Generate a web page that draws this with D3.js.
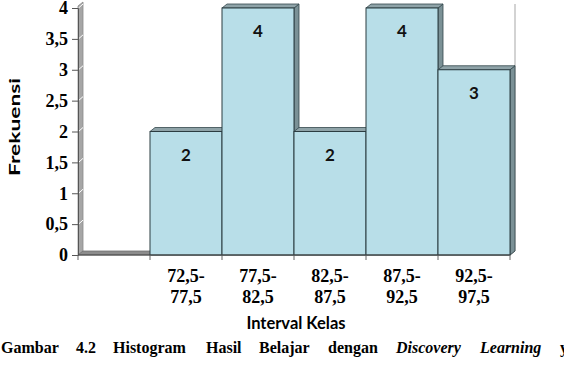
<!DOCTYPE html>
<html>
<head>
<meta charset="utf-8">
<script src="https://cdn.jsdelivr.net/npm/d3@7"></script>
<style>
  body { margin: 0; background: #fff; }
  svg { display: block; }
</style>
</head>
<body>
<div id="chart"></div>
<script>
// data
var categories = ["", "72,5-77,5", "77,5-82,5", "82,5-87,5", "87,5-92,5", "92,5-97,5"];
var frequencies = [0, 2, 4, 2, 4, 3];
var yTickValues = [0, 0.5, 1, 1.5, 2, 2.5, 3, 3.5, 4];
var captionWords = ["Gambar", "4.2", "Histogram", "Hasil", "Belajar", "dengan", "Discovery", "Learning", "y"];
var captionItalic = ["Discovery", "Learning"];

var width = 564, height = 365;
var plotLeft = 78, plotRight = 510, plotTop = 8, plotBottom = 255;
var dx = 5, dy = 4;   // 3d depth

var svg = d3.select("#chart").append("svg")
    .attr("width", width)
    .attr("height", height);

var x = d3.scaleBand().domain(categories).range([plotLeft, plotRight]).padding(0);
var y = d3.scaleLinear().domain([0, 4]).range([plotBottom, plotTop]);

var serif = "'Liberation Serif', 'Times New Roman', serif";
var sans = "Lato, 'Open Sans', sans-serif";

// back wall right edge
svg.append("line")
    .attr("x1", plotRight + dx).attr("x2", plotRight + dx)
    .attr("y1", y(4) - dy).attr("y2", plotBottom - dy)
    .style("stroke", "#c4c4c4").style("stroke-width", 1.5);

// left wall
svg.append("path")
    .attr("d", "M" + plotLeft + "," + plotBottom + "L" + plotLeft + "," + (y(4) - 2) +
        "L" + (plotLeft + dx) + "," + (y(4) - 2 - dy) + "L" + (plotLeft + dx) + "," + (plotBottom - dy) + "Z")
    .style("fill", "#a6a6a6")
    .style("stroke", "#8a8a8a").style("stroke-width", 0.8);

// white gridline marks on the wall
svg.selectAll("line.wallgrid")
    .data(yTickValues.slice(1))
  .enter().append("line")
    .attr("class", "wallgrid")
    .attr("x1", plotLeft + 0.5).attr("x2", plotLeft + dx)
    .attr("y1", d => y(d)).attr("y2", d => y(d) - dy)
    .style("stroke", "#fff").style("stroke-width", 1);

// floor
svg.append("path")
    .attr("d", "M" + plotLeft + "," + plotBottom + "L" + plotRight + "," + plotBottom +
        "L" + (plotRight + dx) + "," + (plotBottom - dy) + "L" + (plotLeft + dx) + "," + (plotBottom - dy) + "Z")
    .style("fill", "#8c8c8c")
    .style("stroke", "#6e6e6e").style("stroke-width", 0.8);

// bars
var bars = svg.selectAll("g.bar")
    .data(categories.map(function(c, i) { return {cat: c, val: frequencies[i]}; })
        .filter(function(d) { return d.val > 0; }))
  .enter().append("g")
    .attr("class", "bar");

bars.each(function(d) {
    var g = d3.select(this);
    var x0 = x(d.cat), x1 = x0 + x.bandwidth(), yt = y(d.val);
    // side face
    g.append("path")
        .attr("d", "M" + x1 + "," + plotBottom + "L" + x1 + "," + yt + "L" + (x1 + dx) + "," + (yt - dy) +
            "L" + (x1 + dx) + "," + (plotBottom - dy) + "Z")
        .style("fill", "#7b9196").style("stroke", "#34474c").style("stroke-width", 0.8);
    // top face
    g.append("path")
        .attr("d", "M" + x0 + "," + yt + "L" + (x0 + dx) + "," + (yt - dy) + "L" + (x1 + dx) + "," + (yt - dy) +
            "L" + x1 + "," + yt + "Z")
        .style("fill", "#8fa3a8").style("stroke", "#34474c").style("stroke-width", 0.8);
    // front
    g.append("rect")
        .attr("x", x0).attr("y", yt)
        .attr("width", x.bandwidth()).attr("height", plotBottom - yt)
        .style("fill", "#b8dee8").style("stroke", "#2b3c41").style("stroke-width", 1);
    // value label
    g.append("text")
        .attr("x", x0 + x.bandwidth() / 2)
        .attr("y", yt + 29)
        .attr("text-anchor", "middle")
        .style("font-family", sans).style("font-weight", "bold").style("font-size", "17px")
        .style("fill", "#111")
        .text(d.val);
});

// y axis
var yAxis = d3.axisLeft(y)
    .tickValues(yTickValues)
    .tickSize(6)
    .tickPadding(4)
    .tickFormat(function(d) { return String(d).replace(".", ","); });

var yg = svg.append("g")
    .attr("transform", "translate(" + plotLeft + ",0)")
    .call(yAxis);
yg.select(".domain").style("stroke", "#555");
yg.selectAll(".tick line").style("stroke", "#555");
yg.selectAll(".tick text")
    .style("font-family", serif).style("font-weight", "bold").style("font-size", "18px")
    .style("fill", "#000");

// x axis line and boundary ticks
svg.append("line")
    .attr("x1", plotLeft).attr("x2", plotRight)
    .attr("y1", plotBottom).attr("y2", plotBottom)
    .style("stroke", "#444").style("stroke-width", 1);

var boundaries = categories.map(function(c) { return x(c); }).concat([plotRight]);
svg.selectAll("line.xtick")
    .data(boundaries)
  .enter().append("line")
    .attr("class", "xtick")
    .attr("x1", d => d).attr("x2", d => d)
    .attr("y1", plotBottom).attr("y2", plotBottom + 5)
    .style("stroke", "#666");

// x labels, two lines
var xl = svg.selectAll("text.xlabel")
    .data(categories.filter(function(c) { return c !== ""; }))
  .enter().append("text")
    .attr("class", "xlabel")
    .attr("text-anchor", "middle")
    .style("font-family", serif).style("font-weight", "bold").style("font-size", "18px");
xl.append("tspan")
    .attr("x", d => x(d) + x.bandwidth() / 2)
    .attr("y", 282)
    .text(d => d.split("-")[0] + "-");
xl.append("tspan")
    .attr("x", d => x(d) + x.bandwidth() / 2)
    .attr("y", 303)
    .text(d => d.split("-")[1]);

// axis titles
svg.append("text")
    .attr("x", 296).attr("y", 329)
    .attr("text-anchor", "middle")
    .style("font-family", sans).style("font-weight", "bold").style("font-size", "16.5px")
    .text("Interval Kelas");

svg.append("text")
    .attr("transform", "translate(20,127) rotate(-90)")
    .attr("text-anchor", "middle")
    .attr("textLength", 98)
    .attr("lengthAdjust", "spacingAndGlyphs")
    .style("font-family", sans).style("font-weight", "bold").style("font-size", "16px")
    .text("Frekuensi");

// caption, justified words
var wordX = [1, 76, 113, 206, 259, 328, 396, 480, 560];
svg.selectAll("text.caption")
    .data(captionWords)
  .enter().append("text")
    .attr("class", "caption")
    .attr("x", (d, i) => wordX[i])
    .attr("y", 353)
    .style("font-family", serif).style("font-weight", "bold").style("font-size", "16px")
    .style("font-style", d => captionItalic.indexOf(d) >= 0 ? "italic" : "normal")
    .text(d => d);
</script>
</body>
</html>
